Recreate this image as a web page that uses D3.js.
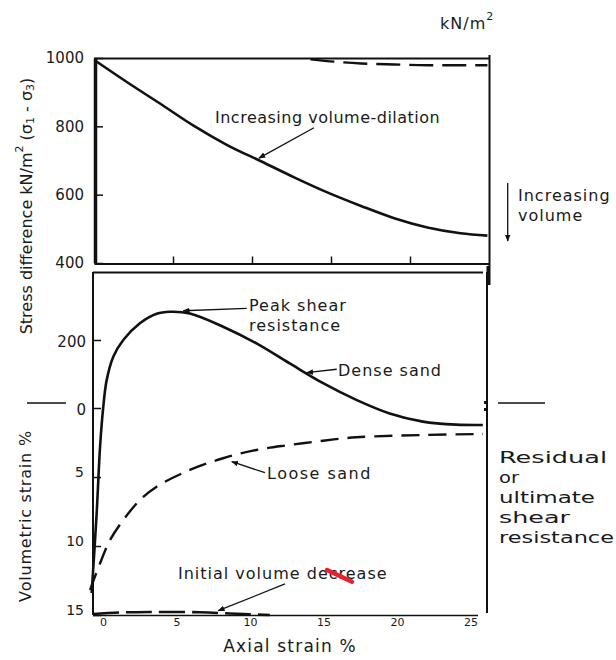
<!DOCTYPE html>
<html><head><meta charset="utf-8">
<script src="https://cdn.jsdelivr.net/npm/d3@7"></script>
<style>
html,body{margin:0;padding:0;background:#fff;}
svg{display:block;}
text{font-family:"DejaVu Sans",sans-serif;fill:#1a1a1a;}
</style></head>
<body>
<svg id="c" width="616" height="660"></svg>
<script>
// ---------- data ----------
// top panel: stress difference (kN/m²) vs axial strain (%), top panel axis
const topAxialTicks = [5, 10, 15, 20];
const topStressTicks = [400, 600, 800, 1000];
const dilationStrain = [0.15, 2.1, 4.2, 6.3, 8.4, 10.6, 12.7, 14.8, 16.9, 19.0, 21.1, 23.2, 24.9];
const dilationStress = [990, 929, 866, 802, 746, 697, 650, 606, 567, 531, 504, 487, 480];
const topDashStrain = [13.7, 15.3, 16.9, 19.0, 21.1, 23.0, 24.9];
const topDashStress = [996, 989, 984, 981, 979, 979, 979];

// bottom panel: axial strain ticks
const axialTicks = [0, 5, 10, 15, 20, 25];
const lowStressTicks = [0, 200];
const volTicks = [5, 10, 15];

// dense sand (stress difference, kN/m², continuing below the zero line)
const denseStrain = [-0.77, -0.43, -0.2, 0.02, 0.25, 0.7, 1.38, 2.51, 3.65, 4.55, 5.91, 8.17, 10.44, 12.7, 14.97, 17.23, 19.5, 21.76, 24.03, 25.84];
const denseStress = [-544, -309, -114, 4, 82, 151, 200, 249, 277, 283, 278, 239, 190, 131, 73, 24, -16, -40, -49, -50];

// loose sand (volumetric strain %)
const looseStrain = [-0.88, -0.2, 0.48, 1.38, 2.51, 3.65, 5.91, 8.17, 10.44, 12.7, 14.97, 17.23, 21.76, 25.84];
const looseVol = [13.19, 11.25, 9.57, 8.12, 6.67, 5.7, 4.49, 3.64, 3.04, 2.68, 2.37, 2.12, 1.96, 1.88];

// initial volume decrease (volumetric strain %)
const initStrain = [-0.68, 1.15, 3.19, 6.59, 8.63, 9.99, 11.35];
const initVol = [14.93, 14.82, 14.78, 14.8, 14.89, 14.95, 15.0];

// ---------- scales ----------
const svg = d3.select("#c");
const xTop = d3.scaleLinear().domain([0, 25]).range([94, 489]);
const yTop = d3.scaleLinear().domain([400, 1000]).range([263, 58]);
const xBot = d3.scaleLinear().domain([0, 25]).range([103, 470.5]);
const yStress = d3.scaleLinear().domain([0, 400]).range([408, 272]);
const yVol = d3.scaleLinear().domain([0, 15]).range([408, 615]);

const ink = "#111";
const line = (x1, y1, x2, y2, w) => svg.append("line").attr("x1", x1).attr("y1", y1).attr("x2", x2).attr("y2", y2)
  .attr("stroke", ink).attr("stroke-width", w);

// arrow marker
const defs = svg.append("defs");
defs.append("marker").attr("id", "ah").attr("viewBox", "0 0 10 10").attr("refX", 9).attr("refY", 5)
  .attr("markerWidth", 7).attr("markerHeight", 7).attr("markerUnits", "userSpaceOnUse").attr("orient", "auto")
  .append("path").attr("d", "M0,1 L10,5 L0,9 z").attr("fill", ink);

// ---------- top panel frame ----------
line(94, 58.5, 490, 58.5, 2);
line(489.5, 55, 489.5, 266, 2);
line(488.5, 266, 488.5, 285, 4);
const gTopX = svg.append("g").attr("transform", "translate(0,263.5)")
  .call(d3.axisTop(xTop).tickValues(topAxialTicks).tickSize(7).tickSizeOuter(0).tickFormat(""));
gTopX.select(".domain").attr("stroke", ink).attr("stroke-width", 2);
gTopX.selectAll(".tick line").attr("stroke", ink).attr("stroke-width", 1.5);

const gTopY = svg.append("g").attr("transform", "translate(95,0)")
  .call(d3.axisLeft(yTop).tickValues(topStressTicks).tickFormat(d3.format("d")).tickSizeInner(-8).tickSizeOuter(0).tickPadding(11));
gTopY.select(".domain").attr("stroke", ink).attr("stroke-width", 3.5);
gTopY.selectAll(".tick line").attr("stroke", ink).attr("stroke-width", 1.5);
gTopY.selectAll(".tick text").attr("font-size", 15).attr("fill", "#222").style("font-family", "DejaVu Sans");

// ---------- bottom panel frame ----------
line(93, 272.5, 483, 272.5, 2);
line(487, 272, 487, 613, 2);
line(93, 615.5, 478, 615.5, 1.6);

const gLS = svg.append("g").attr("transform", "translate(93,0)")
  .call(d3.axisLeft(yStress).tickValues(lowStressTicks).tickSizeInner(-8).tickSizeOuter(0).tickPadding(7));
gLS.select(".domain").remove();
gLS.selectAll(".tick line").attr("stroke", ink).attr("stroke-width", 1.5);
gLS.selectAll(".tick text").attr("font-size", 15).attr("fill", "#222").attr("dy", "0.45em").style("font-family", "DejaVu Sans");

const gV = svg.append("g").attr("transform", "translate(93,0)")
  .call(d3.axisLeft(yVol).tickValues(volTicks).tickSizeInner(-8).tickSizeOuter(0).tickPadding(9));
gV.select(".domain").remove();
gV.selectAll(".tick line").attr("stroke", ink).attr("stroke-width", 1.5);
gV.selectAll(".tick text").attr("font-size", 14).attr("fill", "#222").attr("dy", "-0.05em").style("font-family", "DejaVu Sans");
line(93, 272, 93, 615, 2);

const gX = svg.append("g").attr("transform", "translate(0,615)")
  .call(d3.axisBottom(xBot).tickValues(axialTicks).tickSize(0).tickPadding(3));
gX.select(".domain").remove();
gX.selectAll(".tick text").attr("font-size", 11).attr("fill", "#333").style("font-family", "DejaVu Sans");

// zero marks beside the panel
line(27, 403, 66, 403, 1.5);
line(498, 403, 545, 403, 1.5);
svg.append("rect").attr("x", 484).attr("y", 401).attr("width", 3).attr("height", 3).attr("fill", ink);
svg.append("rect").attr("x", 484).attr("y", 408).attr("width", 3).attr("height", 3).attr("fill", ink);

// ---------- curves ----------
const cr = d3.curveMonotoneX;
const topLine = d3.line().x(d => xTop(d[0])).y(d => yTop(d[1])).curve(cr);
svg.append("path").attr("d", topLine(d3.zip(dilationStrain, dilationStress)))
  .attr("fill", "none").attr("stroke", ink).attr("stroke-width", 2.6);
svg.append("path").attr("d", topLine(d3.zip(topDashStrain, topDashStress)))
  .attr("fill", "none").attr("stroke", ink).attr("stroke-width", 2.4).attr("stroke-dasharray", "24,9");

const denseLine = d3.line().x(d => xBot(d[0])).y(d => yStress(d[1])).curve(d3.curveCatmullRom.alpha(0.5));
svg.append("path").attr("d", denseLine(d3.zip(denseStrain, denseStress)))
  .attr("fill", "none").attr("stroke", ink).attr("stroke-width", 2.6);

const volLine = d3.line().x(d => xBot(d[0])).y(d => yVol(d[1])).curve(d3.curveCatmullRom.alpha(0.5));
svg.append("path").attr("d", volLine(d3.zip(looseStrain, looseVol)))
  .attr("fill", "none").attr("stroke", ink).attr("stroke-width", 2.4).attr("stroke-dasharray", "18,9");
svg.append("path").attr("d", volLine(d3.zip(initStrain, initVol)))
  .attr("fill", "none").attr("stroke", ink).attr("stroke-width", 2.6).attr("stroke-dasharray", "26,7");

// ---------- annotations ----------
const arrow = (x1, y1, x2, y2) => svg.append("line").attr("x1", x1).attr("y1", y1).attr("x2", x2).attr("y2", y2)
  .attr("stroke", ink).attr("stroke-width", 1.3).attr("marker-end", "url(#ah)");
const label = (x, y, s, size, ls) => svg.append("text").attr("x", x).attr("y", y).attr("dominant-baseline", "central")
  .attr("font-size", size || 16).attr("letter-spacing", ls == null ? 1 : ls).text(s);

label(215, 117, "Increasing volume-dilation", 16, 0.5);
arrow(xTop(13.92), yTop(796), xTop(10.44), yTop(707));

label(249, 305, "Peak shear");
label(249, 325, "resistance");
arrow(xBot(9.78), yStress(293), xBot(5.46), yStress(286));

label(338, 370, "Dense sand");
arrow(xBot(15.9), yStress(114), xBot(13.86), yStress(104));

label(267, 473, "Loose sand", 16, 1.5);
arrow(xBot(11.02), yVol(4.69), xBot(8.76), yVol(3.89));

label(178, 573, "Initial volume decrease");
arrow(xBot(12.38), yVol(12.75), xBot(7.84), yVol(14.69));

// red stray mark on the scan
const redMarkStrain = [15.24, 16.94];
const redMarkVol = [11.74, 12.59];
svg.append("line").attr("x1", xBot(redMarkStrain[0])).attr("y1", yVol(redMarkVol[0]))
  .attr("x2", xBot(redMarkStrain[1])).attr("y2", yVol(redMarkVol[1]))
  .attr("stroke", "#e8232b").attr("stroke-width", 4.5).attr("stroke-linecap", "round");

// increasing volume
label(518, 195, "Increasing");
label(518, 215, "volume");
arrow(507.7, 183, 507.7, 241);

// units
const ku = svg.append("text").attr("x", 440).attr("y", 23).attr("dominant-baseline", "central")
  .attr("font-size", 16).attr("letter-spacing", 1);
ku.append("tspan").text("kN/m");
ku.append("tspan").attr("font-size", 11).attr("dy", -7).text("2");

// residual block
const resLines = ["Residual", "or", "ultimate", "shear", "resistance"];
const resWidths = [108, 20, 96, 71, 115];
resLines.forEach((s, i) => {
  svg.append("text").attr("x", 499).attr("y", 457 + i * 20).attr("dominant-baseline", "central")
    .attr("font-size", 16.5).attr("textLength", resWidths[i]).attr("lengthAdjust", "spacingAndGlyphs")
    .attr("fill", "#151515").text(s);
});

// axis titles
const t1 = svg.append("text").attr("transform", "translate(26,206) rotate(-90)").attr("text-anchor", "middle")
  .attr("dominant-baseline", "central").attr("font-size", 16);
t1.append("tspan").text("Stress difference kN/m");
t1.append("tspan").attr("font-size", 11).attr("dy", -7).text("2");
t1.append("tspan").attr("dy", 7).text(" (σ");
t1.append("tspan").attr("font-size", 11).attr("dy", 4).text("1");
t1.append("tspan").attr("dy", -4).text(" - σ");
t1.append("tspan").attr("font-size", 11).attr("dy", 4).text("3");
t1.append("tspan").attr("dy", -4).text(")");

svg.append("text").attr("transform", "translate(25,516) rotate(-90)").attr("text-anchor", "middle")
  .attr("dominant-baseline", "central").attr("font-size", 16).attr("letter-spacing", 0.8).text("Volumetric strain %");

svg.append("text").attr("x", 290).attr("y", 646).attr("text-anchor", "middle").attr("dominant-baseline", "central")
  .attr("font-size", 17).attr("letter-spacing", 1.2).text("Axial strain %");
</script>
</body></html>
